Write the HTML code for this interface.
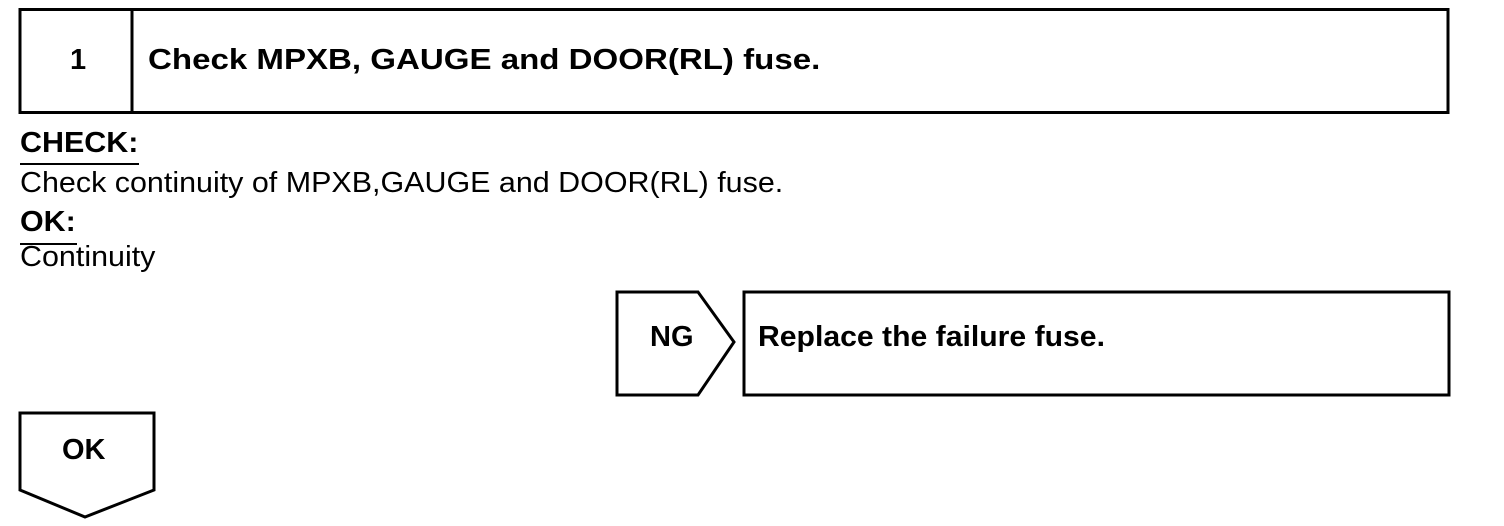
<!DOCTYPE html>
<html><head><style>
body{margin:0;width:1504px;height:526px;background:#fff;position:relative;overflow:hidden;font-family:"Liberation Sans",Arial,sans-serif;color:#000}
.t{position:absolute;white-space:nowrap;line-height:1;font-size:29px;transform-origin:left top}
.b{font-weight:bold}
</style></head><body>
<svg width="1504" height="526" style="position:absolute;left:0;top:0" fill="none" stroke="#000" stroke-width="3">
<rect x="20" y="9.5" width="1428" height="103"/>
<line x1="132" y1="9.5" x2="132" y2="112.5"/>
<line x1="20" y1="164" x2="139" y2="164" stroke-width="2"/>
<line x1="20" y1="244" x2="77" y2="244" stroke-width="2"/>
<polygon points="617,292 698,292 734,342 698,395 617,395"/>
<rect x="744" y="292" width="705" height="103"/>
<polygon points="20,413 154,413 154,490 85,517 20,490"/>
</svg>
<div class="t b" style="left:70px;top:46px">1</div>
<div class="t b" style="left:148px;top:46px;transform:scaleX(1.14)">Check MPXB, GAUGE and DOOR(RL) fuse.</div>
<div class="t b" style="left:20px;top:129px;transform:scaleX(1.05)">CHECK:</div>
<div class="t" style="left:20px;top:169px;transform:scaleX(1.05)">Check continuity of MPXB,GAUGE and DOOR(RL) fuse.</div>
<div class="t b" style="left:20px;top:208px;transform:scaleX(1.05)">OK:</div>
<div class="t" style="left:20px;top:243px;transform:scaleX(1.05)">Continuity</div>
<div class="t b" style="left:650px;top:323px;transform:scaleX(1.0)">NG</div>
<div class="t b" style="left:758px;top:323px;transform:scaleX(1.04)">Replace the failure fuse.</div>
<div class="t b" style="left:62px;top:436px">OK</div>
</body></html>
